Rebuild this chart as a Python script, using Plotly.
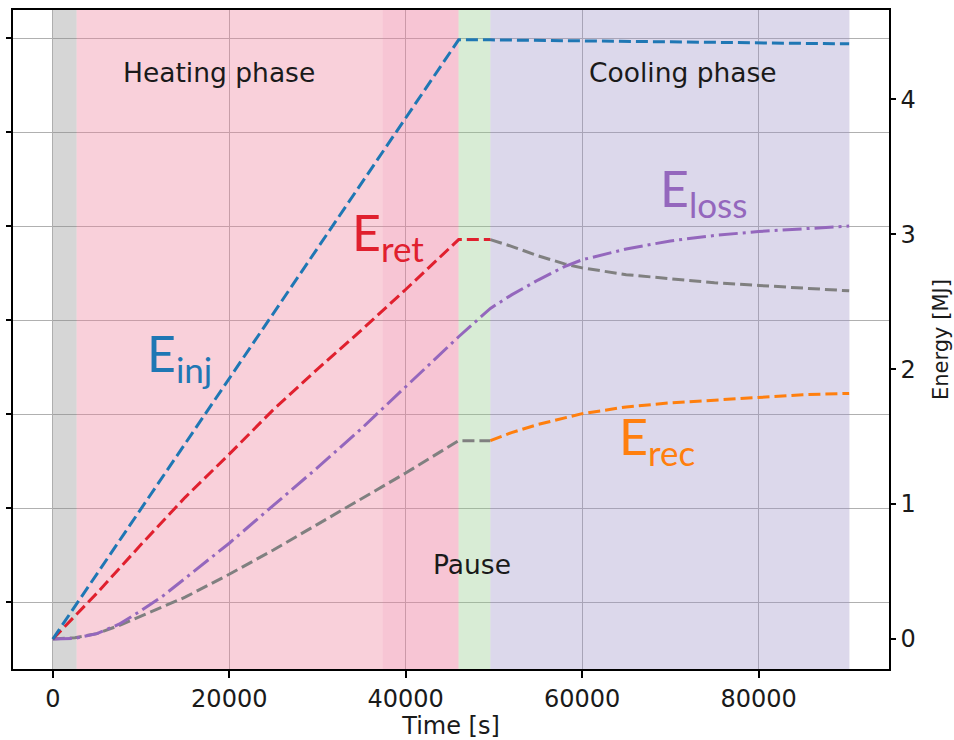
import plotly.graph_objects as go

# ---- phase boundaries [s] ----
preheat_span = [0, 2700]
heating_span = [2700, 46000]
late_heating_span = [37400, 46000]
pause_span = [46000, 49600]
cooling_span = [49600, 90300]

# ---- energy curves [MJ] ----
t_inj = [0, 46000, 49600, 60000, 70000, 80000, 90270]
e_inj = [0, 4.44, 4.44, 4.432, 4.424, 4.417, 4.41]

t_ret_heat = [0, 5000, 10000, 15000, 20000, 25000, 30000, 35000, 40000, 46000, 49600]
e_ret_heat = [0, 0.34, 0.70, 1.05, 1.37, 1.70, 2.00, 2.29, 2.59, 2.96, 2.96]

t_cool = [49600, 52000, 55000, 58000, 60000, 65000, 70000, 75000, 80000, 85000, 90270]
e_ret_cool = [2.96, 2.91, 2.84, 2.78, 2.75, 2.70, 2.67, 2.64, 2.62, 2.60, 2.58]
e_rec_cool = [1.47, 1.53, 1.59, 1.64, 1.67, 1.72, 1.75, 1.77, 1.79, 1.81, 1.82]

t_rec_heat = [0, 2500, 5000, 7500, 10000, 15000, 20000, 25000, 30000, 35000, 40000, 46000, 49600]
e_rec_heat = [0, 0.01, 0.04, 0.10, 0.17, 0.31, 0.48, 0.66, 0.85, 1.04, 1.23, 1.47, 1.47]

t_loss = [0, 2500, 5000, 7500, 10000, 12500, 15000, 20000, 25000, 30000, 35000, 40000, 46000,
          49600, 52000, 55000, 58000, 60000, 65000, 70000, 75000, 80000, 85000, 90270]
e_loss = [0, 0.005, 0.04, 0.11, 0.21, 0.32, 0.45, 0.71, 0.99, 1.27, 1.56, 1.87, 2.24,
          2.45, 2.55, 2.66, 2.76, 2.81, 2.89, 2.95, 2.99, 3.02, 3.04, 3.06]

x_ticks = [0, 20000, 40000, 60000, 80000]
x_tick_labels = ["0", "20000", "40000", "60000", "80000"]
energy_ticks = [0, 1, 2, 3, 4]
energy_tick_labels = ["0", "1", "2", "3", "4"]
left_ticks = [0, 1, 2, 3, 4, 5, 6]

x_range = [-4514, 94786]
energy_range = [-0.222, 4.661]
left_range = [-0.713, 6.301]

BLUE = "#1f77b4"
RED = "#e0202e"
GRAY = "#808080"
ORANGE = "#ff7f0e"
PURPLE = "#9467bd"
TEXT = "#1a1a1a"
FONT = "DejaVu Sans"
LABEL_FONT = "Lato"

DASH = "12px,5px"
DASHDOT = "19px,5px,3px,5px"
LW = 3

fig = go.Figure()


def add_line(t, e, color, dash):
    fig.add_trace(go.Scatter(
        x=t, y=e, yaxis="y2", mode="lines",
        line=dict(color=color, width=LW, dash=dash),
        showlegend=False, hoverinfo="skip",
    ))


add_line(t_rec_heat, e_rec_heat, GRAY, DASH)
add_line(t_cool, e_ret_cool, GRAY, DASH)
add_line(t_loss, e_loss, PURPLE, DASHDOT)
add_line(t_cool, e_rec_cool, ORANGE, DASH)
add_line(t_ret_heat, e_ret_heat, RED, DASH)
add_line(t_inj, e_inj, BLUE, DASH)

# phase shading, drawn between gridlines and curves
spans = [
    (preheat_span, "rgba(138,138,138,0.35)"),
    (heating_span, "rgba(240,128,155,0.37)"),
    (late_heating_span, "rgba(236,120,175,0.12)"),
    (pause_span, "rgba(144,201,136,0.35)"),
    (cooling_span, "rgba(155,144,198,0.35)"),
]
for (x0, x1), col in spans:
    fig.add_shape(type="rect", xref="x", yref="y", x0=x0, x1=x1,
                  y0=left_range[0], y1=left_range[1],
                  fillcolor=col, line=dict(width=0), layer="between")

annotations = [
    dict(text="Heating phase", x=18790, y=4.20, size=26.5, color=TEXT, font=FONT),
    dict(text="Cooling phase", x=71390, y=4.20, size=26.5, color=TEXT, font=FONT),
    dict(text="Pause", x=47470, y=0.55, size=26.5, color=TEXT, font=FONT),
    dict(text="E<sub>inj</sub>", x=14400, y=2.095, size=50, color=BLUE, font=LABEL_FONT),
    dict(text="E<sub>ret</sub>", x=38000, y=2.99, size=50, color=RED, font=LABEL_FONT),
    dict(text="E<sub>loss</sub>", x=73750, y=3.315, size=50, color=PURPLE, font=LABEL_FONT),
    dict(text="E<sub>rec</sub>", x=68500, y=1.475, size=50, color=ORANGE, font=LABEL_FONT),
]
for a in annotations:
    fig.add_annotation(text=a["text"], x=a["x"], y=a["y"], xref="x", yref="y2",
                       showarrow=False, xanchor="center", yanchor="middle",
                       font=dict(family=a["font"], size=a["size"], color=a["color"]))

fig.update_layout(
    width=954, height=740,
    margin=dict(l=13, r=65, t=10, b=71, autoexpand=False),
    paper_bgcolor="white", plot_bgcolor="white",
    font=dict(family=FONT, color=TEXT),
    xaxis=dict(
        range=x_range, tickvals=x_ticks, ticktext=x_tick_labels, automargin=False,
        showgrid=True, gridcolor="#b0b0b0", gridwidth=1, zeroline=False,
        showline=True, linecolor="black", linewidth=1.5, mirror=True,
        ticks="outside", ticklen=7, tickwidth=1.5, tickcolor="black",
        tickfont=dict(size=24, family=FONT, color=TEXT),
        title=dict(text="Time [s]", font=dict(size=24, family=FONT, color=TEXT), standoff=4),
    ),
    yaxis=dict(
        range=left_range, tickvals=left_ticks, showticklabels=False, automargin=False,
        showgrid=True, gridcolor="#b0b0b0", gridwidth=1, zeroline=False,
        showline=True, linecolor="black", linewidth=1.5,
        ticks="outside", ticklen=5, tickwidth=1.5, tickcolor="black",
    ),
    yaxis2=dict(
        overlaying="y", side="right", range=energy_range, automargin=False,
        tickvals=energy_ticks, ticktext=energy_tick_labels,
        showgrid=False, zeroline=False,
        showline=True, linecolor="black", linewidth=1.5,
        ticks="outside", ticklen=5, tickwidth=1.5, tickcolor="black",
        tickfont=dict(size=24, family=FONT, color=TEXT),
        title=dict(text="Energy [MJ]", font=dict(size=21, family=FONT, color=TEXT), standoff=18),
    ),
)

fig.write_html("out.html")
